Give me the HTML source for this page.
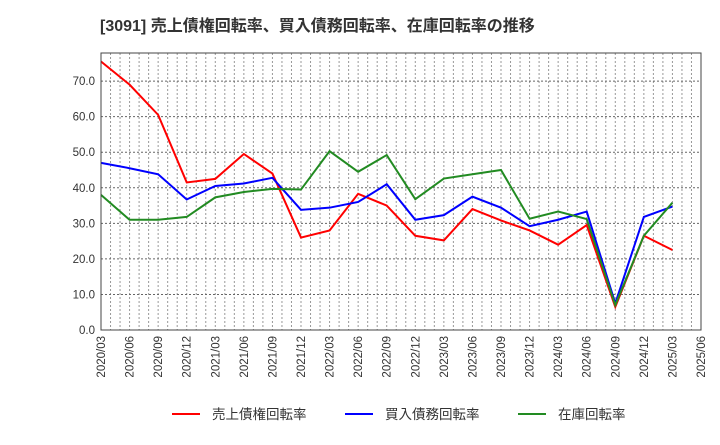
<!DOCTYPE html>
<html><head><meta charset="utf-8"><style>
body{margin:0;background:#fff;font-family:"Liberation Sans","Noto Sans CJK JP",sans-serif;}
</style></head><body>
<svg id="c" width="720" height="440" xmlns="http://www.w3.org/2000/svg" style="font-family:'Liberation Sans','Noto Sans CJK JP',sans-serif">
<text x="100" y="31" font-size="16" font-weight="bold" fill="#333">[3091]  売上債権回転率、買入債務回転率、在庫回転率の推移</text>
<g id="grid"></g><g id="series"></g><g id="axes"></g><g id="legend"></g>
</svg>
<script>
const categories=["2020/03","2020/06","2020/09","2020/12","2021/03","2021/06","2021/09","2021/12","2022/03","2022/06","2022/09","2022/12","2023/03","2023/06","2023/09","2023/12","2024/03","2024/06","2024/09","2024/12","2025/03","2025/06"];
const yTicks=[0,10,20,30,40,50,60,70];
const receivables=[75.5,69,60.5,41.5,42.5,49.5,44,26,28,38.3,35,26.5,25.2,34,30.8,28,24,29.5,6.5,26.5,22.5];
const payables=[47,45.5,43.8,36.7,40.5,41.2,42.8,33.8,34.4,36,41,31,32.3,37.5,34.4,29.2,31,33.3,7.5,31.8,34.7];
const inventory=[38,31,31,31.8,37.3,38.8,39.7,39.5,50.3,44.5,49.2,36.8,42.6,43.8,45,31.3,33.3,31.2,7,26.5,35.8];
const L=101,R=701,T=53,B=330,yMax=77.9;
const x=i=>L+i*(R-L)/(categories.length-1);
const y=v=>B-v*(B-T)/yMax;
const NS="http://www.w3.org/2000/svg";
function mk(tag,attrs,parent){const e=document.createElementNS(NS,tag);for(const k in attrs)e.setAttribute(k,attrs[k]);parent.appendChild(e);return e;}
const grid=document.getElementById('grid'),axes=document.getElementById('axes'),ser=document.getElementById('series'),leg=document.getElementById('legend');
for(let m=0;m<=63;m++){const xx=L+m*(R-L)/63;const g=mk('line',{x1:xx,x2:xx,y1:T,y2:B,stroke:'#999','stroke-dasharray':'2,2','stroke-width':1},grid);

}
yTicks.forEach(v=>{const g=mk('line',{x1:L,x2:R,y1:y(v),y2:y(v),stroke:'#666','stroke-dasharray':'2,2','stroke-width':1},grid);


const t=mk('text',{x:L-6,y:y(v)+4,'text-anchor':'end','font-size':11.5,fill:'#333'},axes);t.textContent=v.toFixed(1);

});
const fr=mk('rect',{x:L,y:T,width:R-L,height:B-T,fill:'none',stroke:'#444','stroke-width':1},axes);


categories.forEach((c,i)=>{const t=mk('text',{transform:`translate(${x(i)+4},${B+6}) rotate(-90)`,'text-anchor':'end','font-size':11.5,fill:'#333'},axes);t.textContent=c;

});
const S=[["売上債権回転率",receivables,"#ff0000","receivables-turnover-line"],["買入債務回転率",payables,"#0000ff","payables-turnover-line"],["在庫回転率",inventory,"#228b22","inventory-turnover-line"]];
S.forEach(([n,d,col,nm])=>{const p=mk('polyline',{points:d.map((v,i)=>x(i)+','+y(v)).join(' '),fill:'none',stroke:col,'stroke-width':2},ser);

});
const lx=[172,345,518];
S.forEach(([n,d,col],k)=>{const g=mk('g',{},leg);


mk('line',{x1:lx[k],x2:lx[k]+28,y1:414,y2:414,stroke:col,'stroke-width':2},g);
const t=mk('text',{x:lx[k]+40,y:419,'font-size':13.5,fill:'#333'},g);t.textContent=n;});
</script>
</body></html>
